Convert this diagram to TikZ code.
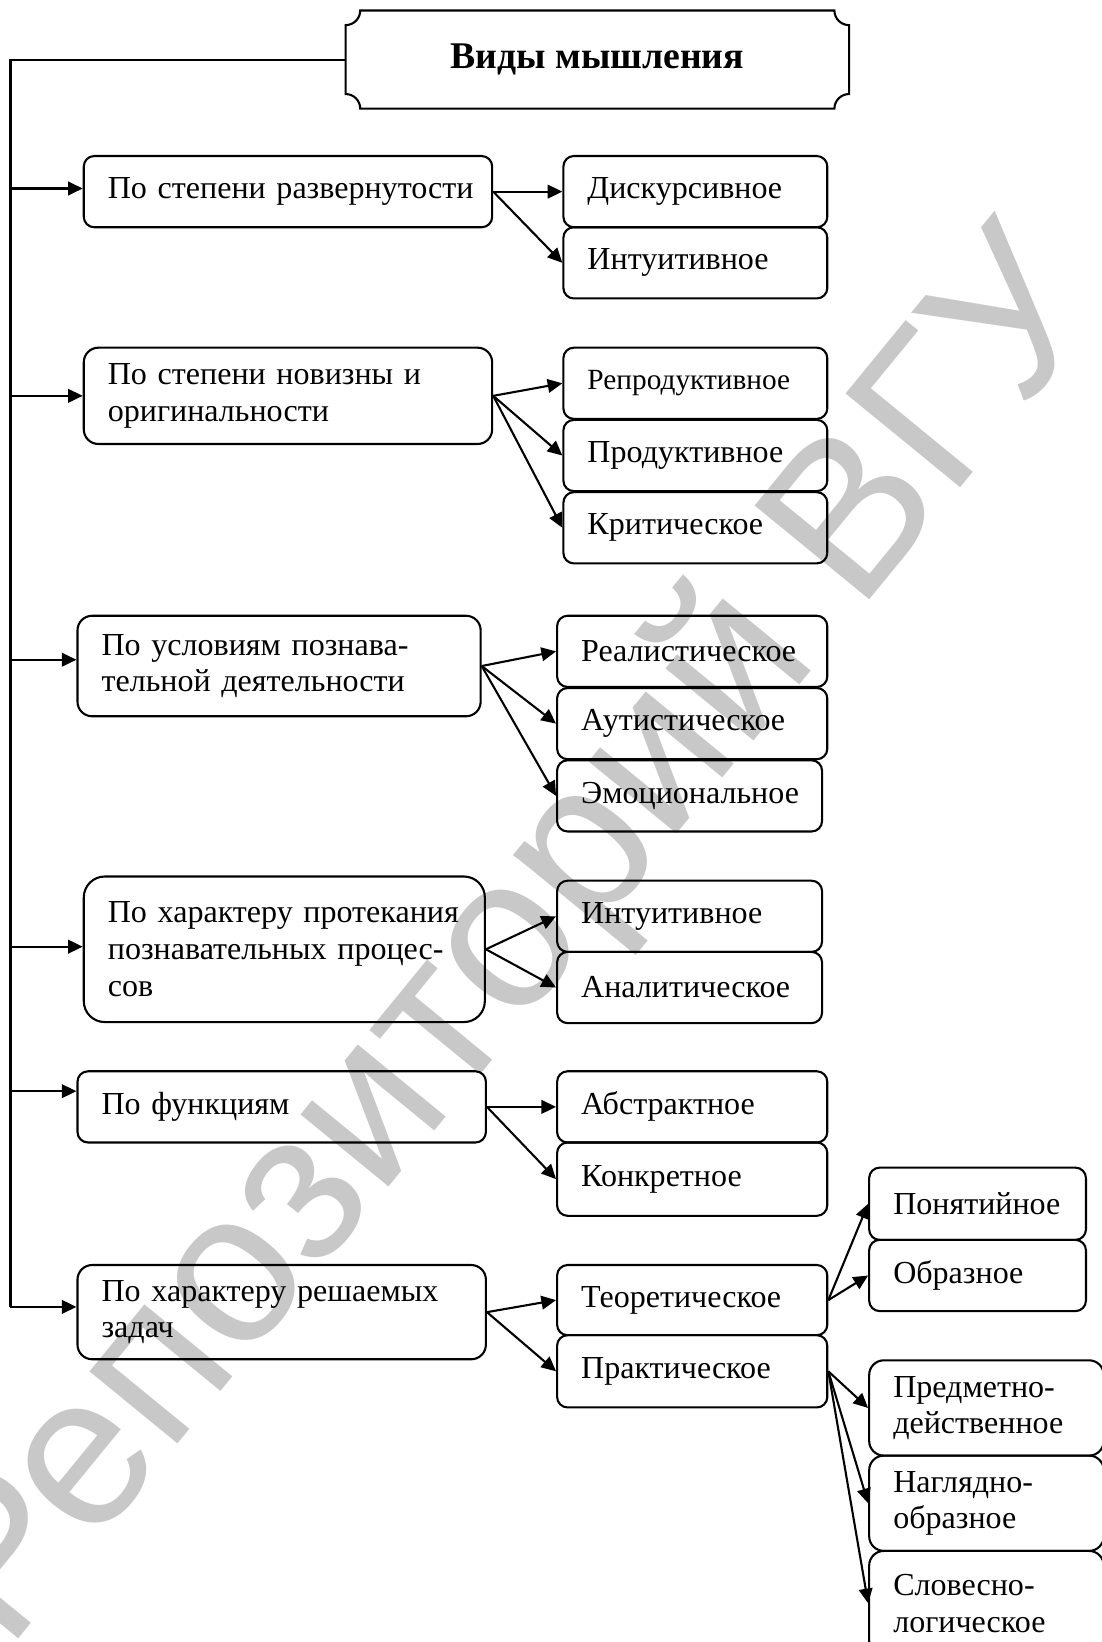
\documentclass[tikz,border=0pt]{standalone}
\usepackage{fontspec}
\setmainfont{Liberation Serif}
\setsansfont{Liberation Sans}
\usetikzlibrary{arrows.meta}

\hyphenpenalty=10000
\exhyphenpenalty=10000

\definecolor{vodyanoy}{RGB}{200,200,200}

\tikzset{
	vid/.style={draw,line width=1pt,rounded corners=5pt,anchor=north west,align=left,inner xsep=11.5pt,inner ysep=0pt,minimum height=34pt,font=\fontsize{15.3}{17.5}\selectfont},
	glav/.style={vid,text width=172pt},
	podvid/.style={vid,text width=103pt},
	strelka/.style={-{Triangle[length=7pt,width=6.5pt]},line width=1pt}
}

\newcommand{\vidpt}[4]
{
	\node[#1] at (#2) (#3) {#4}
}

\begin{document}
\begin{tikzpicture}[x=0.5pt,y=-0.5pt]
	\useasboundingbox (0,0) rectangle (1052,1568);
	
	%%% Watermark
	\node[rotate=50.7,anchor=base west,inner sep=0pt,text=vodyanoy,font=\sffamily\fontsize{102.8}{103}\selectfont] at (7,1578) (znak) {Репозиторий ВГУ};
	
	%%% Title
	\node[anchor=north west,minimum width=240pt,minimum height=46.5pt,inner sep=0pt,font=\bfseries\fontsize{18}{20}\selectfont] at (330,10) (vidy) {Виды мышления};
	\draw[line width=1pt] ([xshift=7pt]vidy.north west) -- ([xshift=-7pt]vidy.north east)
		arc[start angle=180,end angle=270,radius=7pt] -- ([yshift=7pt]vidy.south east)
		arc[start angle=90,end angle=180,radius=7pt] -- ([xshift=7pt]vidy.south west)
		arc[start angle=0,end angle=90,radius=7pt] -- ([yshift=-7pt]vidy.north west)
		arc[start angle=270,end angle=360,radius=7pt] -- cycle;
	
	%%% Trunk
	\coordinate (t1) at (10,180);
	\coordinate (t2) at (10,378);
	\coordinate (t3) at (10,630);
	\coordinate (t4) at (10,904);
	\coordinate (t5) at (10,1042);
	\coordinate (t6) at (10,1248);
	\draw[line width=1pt] (vidy.west) -| (t6);
	
	%%% По степени развернутости
	\vidpt{glav}{79,148}{b1}{По~степени~развернутости};
	\vidpt{podvid}{537,148}{b1a}{Дискурсивное};
	\vidpt{podvid}{537,216}{b1b}{Интуитивное};
	\draw[strelka] (t1) -- (t1 -| b1.west);
	\draw[strelka] (b1.east) -- (b1a.west);
	\draw[strelka] (b1.east) -- (b1b.west);
	
	%%% По степени новизны
	\vidpt{glav,minimum height=46pt,rounded corners=7pt}{79,331}{b2}{По степени новизны и\\оригинальности};
	\vidpt{podvid,font=\fontsize{14}{16}\selectfont}{537,331}{b2a}{Репродуктивное};
	\vidpt{podvid}{537,400}{b2b}{Продуктивное};
	\vidpt{podvid}{537,469}{b2c}{Критическое};
	\draw[strelka] (t2) -- (t2 -| b2.west);
	\draw[strelka] (b2.east) -- (b2a.west);
	\draw[strelka] (b2.east) -- (b2b.west);
	\draw[strelka] (b2.east) -- (b2c.west);
	
	%%% По условиям
	\vidpt{glav,text width=169.5pt,minimum height=48pt,rounded corners=7pt}{73,587}{b3}{По условиям познава-\\тельной деятельности};
	\vidpt{podvid,text width=106pt}{531,587}{b3a}{Реалистическое};
	\vidpt{podvid,text width=106pt}{531,656}{b3b}{Аутистическое};
	\vidpt{podvid,text width=103.5pt}{531,725}{b3c}{Эмоциональное};
	\draw[strelka] (t3) -- (t3 -| b3.west);
	\draw[strelka] (b3.east) -- (b3a.west);
	\draw[strelka] (b3.east) -- (b3b.west);
	\draw[strelka] (b3.east) -- (b3c.west);
	
	%%% По характеру протекания
	\vidpt{glav,text width=168.5pt,minimum height=69.5pt,rounded corners=10pt}{79,836}{b4}{По~характеру~протекания\\познавательных процес-\\сов};
	\vidpt{podvid,text width=103.5pt}{531,840}{b4a}{Интуитивное};
	\vidpt{podvid,text width=103.5pt}{531,908}{b4b}{Аналитическое};
	\draw[strelka] (t4) -- (t4 -| b4.west);
	\draw[strelka] (b4.east) -- (b4a.west);
	\draw[strelka] (b4.east) -- (b4b.west);
	
	%%% По функциям
	\vidpt{glav}{73,1022}{b5}{По функциям};
	\vidpt{podvid,text width=106pt}{531,1022}{b5a}{Абстрактное};
	\vidpt{podvid,text width=106pt,minimum height=35pt}{531,1090}{b5b}{Конкретное};
	\draw[strelka] (t5) -- (t5 -| b5.west);
	\draw[strelka] (b5.east) -- (b5a.west);
	\draw[strelka] (b5.east) -- (b5b.west);
	
	%%% По характеру решаемых задач
	\vidpt{glav,minimum height=45pt,rounded corners=7pt}{73,1207}{b6}{По~характеру~решаемых\\задач};
	\vidpt{podvid,text width=106pt,minimum height=33.5pt}{531,1207}{b6a}{Теоретическое};
	\vidpt{podvid,text width=106pt,minimum height=34.5pt}{531,1274}{b6b}{Практическое};
	\draw[strelka] (t6) -- (t6 -| b6.west);
	\draw[strelka] (b6.east) -- (b6a.west);
	\draw[strelka] (b6.east) -- (b6b.west);
	
	%%% Теоретическое
	\vidpt{vid,text width=80.5pt,minimum height=34.5pt}{829,1114}{b6a1}{Понятийное};
	\vidpt{vid,text width=80.5pt}{829,1183}{b6a2}{Образное};
	\draw[strelka] (b6a.east) -- (b6a1.west);
	\draw[strelka] (b6a.east) -- (b6a2.west);
	
	%%% Практическое
	\vidpt{vid,text width=89pt,minimum height=45.5pt,rounded corners=7pt}{829,1298}{b6b1}{Предметно-\\действенное};
	\vidpt{vid,text width=89pt,minimum height=45.5pt,rounded corners=7pt}{829,1389}{b6b2}{Наглядно-\\образное};
	\vidpt{vid,text width=89pt,minimum height=50pt,rounded corners=7pt}{829,1480}{b6b3}{Словесно-\\логическое};
	\draw[strelka] (b6b.east) -- (b6b1.west);
	\draw[strelka] (b6b.east) -- (b6b2.west);
	\draw[strelka] (b6b.east) -- (b6b3.west);
\end{tikzpicture}
\end{document}
